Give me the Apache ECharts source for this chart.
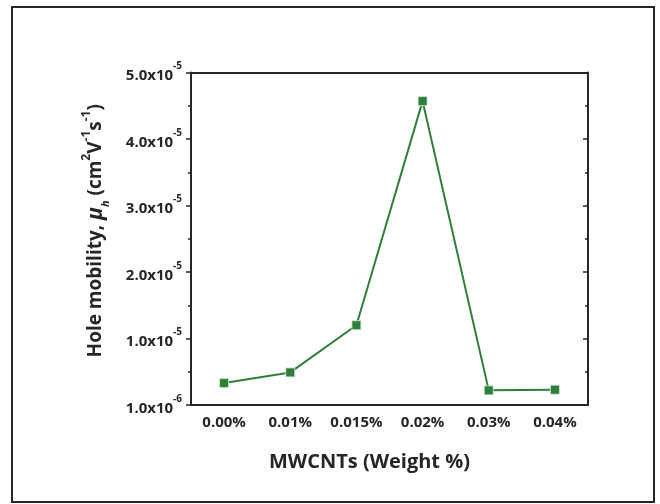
<!DOCTYPE html>
<html>
<head>
<meta charset="utf-8">
<script src="https://cdn.jsdelivr.net/npm/echarts@6/dist/echarts.min.js"></script>
<style>
  html, body { margin: 0; padding: 0; background: #fff; }
  #chart { width: 660px; height: 504px; }
</style>
</head>
<body>
<div id="chart"></div>
<script>
// MWCNT loading (x categories)
const categories = ['0.00%', '0.01%', '0.015%', '0.02%', '0.03%', '0.04%'];
// hole mobility, in units of 1e-5 cm^2 V^-1 s^-1 (axis as drawn)
const mobility = [0.33, 0.49, 1.20, 4.57, 0.22, 0.23];
// y tick labels: [mantissa, exponent] for ticks 0..5
const yTickLabels = [
  ['1.0x10', '-6'],
  ['1.0x10', '-5'],
  ['2.0x10', '-5'],
  ['3.0x10', '-5'],
  ['4.0x10', '-5'],
  ['5.0x10', '-5']
];

const FONT = '"Open Sans", sans-serif';
const INK = '#262626';
const GREEN = '#2f7f3c';

const chart = echarts.init(document.getElementById('chart'));

const yAxisBase = {
  type: 'value',
  min: 0,
  max: 5,
  interval: 1,
  splitLine: { show: false },
  axisLine: { show: true, onZero: false, lineStyle: { color: INK, width: 2 } },
  minorTick: { show: true, splitNumber: 2, length: 3, lineStyle: { color: INK, width: 1.5 } },
  axisTick: { show: true, length: 5, lineStyle: { color: INK, width: 1.5 } }
};

const option = {
  backgroundColor: '#fff',
  animation: false,
  graphic: [{
    type: 'rect',
    shape: { x: 12, y: 7, width: 642, height: 495 },
    style: { fill: 'none', stroke: INK, lineWidth: 2 }
  }],
  grid: { left: 191, right: 72, top: 72.5, bottom: 99 },
  xAxis: [{
    type: 'category',
    data: categories,
    boundaryGap: true,
    position: 'bottom',
    axisLine: { onZero: false, lineStyle: { color: INK, width: 2 } },
    axisTick: { interval: 0, alignWithLabel: true, length: 5, lineStyle: { color: INK, width: 1.5 } },
    axisLabel: { interval: 0, color: INK, fontFamily: FONT, fontWeight: 'bold', fontSize: 15, margin: 10 },
    name: 'MWCNTs (Weight %)',
    nameLocation: 'middle',
    nameGap: 47,
    nameTextStyle: { color: INK, fontFamily: FONT, fontWeight: 'bold', fontSize: 20, padding: [0, 40, 0, 0] }
  }, {
    type: 'category',
    data: categories,
    boundaryGap: true,
    position: 'top',
    axisLine: { onZero: false, lineStyle: { color: INK, width: 2 } },
    axisTick: { interval: 0, inside: true, alignWithLabel: true, length: 5, lineStyle: { color: INK, width: 1.5 } },
    axisLabel: { show: false }
  }],
  yAxis: [Object.assign({}, yAxisBase, {
    position: 'left',
    axisLabel: {
      margin: 9,
      formatter: function (v) {
        const t = yTickLabels[Math.round(v)];
        return '{m|' + t[0] + '}{s|' + t[1] + '}';
      },
      rich: {
        m: { color: INK, fontFamily: FONT, fontWeight: 'bold', fontSize: 15, lineHeight: 22, verticalAlign: 'bottom' },
        s: { color: INK, fontFamily: FONT, fontWeight: 'bold', fontSize: 10, lineHeight: 22, verticalAlign: 'top' }
      }
    },
    name: '{m|Hole mobility, }{i|μ}{sub|h}{m| (cm}{sup|2}{m|V}{sup|-1}{m|s}{sup|-1}{m|)}',
    nameLocation: 'middle',
    nameGap: 80,
    nameRotate: 90,
    nameTextStyle: {
      padding: [0, 0, 0, 16],
      rich: {
        m: { color: INK, fontFamily: FONT, fontWeight: 'bold', fontSize: 19, lineHeight: 30, verticalAlign: 'middle' },
        i: { color: INK, fontFamily: FONT, fontWeight: 'bold', fontStyle: 'italic', fontSize: 21, lineHeight: 30, verticalAlign: 'middle' },
        sub: { color: INK, fontFamily: FONT, fontWeight: 'bold', fontStyle: 'italic', fontSize: 11, lineHeight: 30, verticalAlign: 'bottom' },
        sup: { color: INK, fontFamily: FONT, fontWeight: 'bold', fontSize: 12, lineHeight: 30, verticalAlign: 'top' }
      }
    }
  }), Object.assign({}, yAxisBase, {
    position: 'right',
    axisTick: { show: true, inside: true, length: 5, lineStyle: { color: INK, width: 1.5 } },
    minorTick: { show: true, inside: true, splitNumber: 2, length: 3, lineStyle: { color: INK, width: 1.5 } },
    axisLabel: { show: false }
  })],
  series: [{
    type: 'line',
    data: mobility,
    xAxisIndex: 0,
    yAxisIndex: 0,
    symbol: 'rect',
    symbolSize: 9,
    lineStyle: { color: GREEN, width: 2 },
    itemStyle: { color: GREEN, borderColor: '#d8ead9', borderWidth: 0.8 }
  }]
};

chart.setOption(option);
</script>
</body>
</html>
